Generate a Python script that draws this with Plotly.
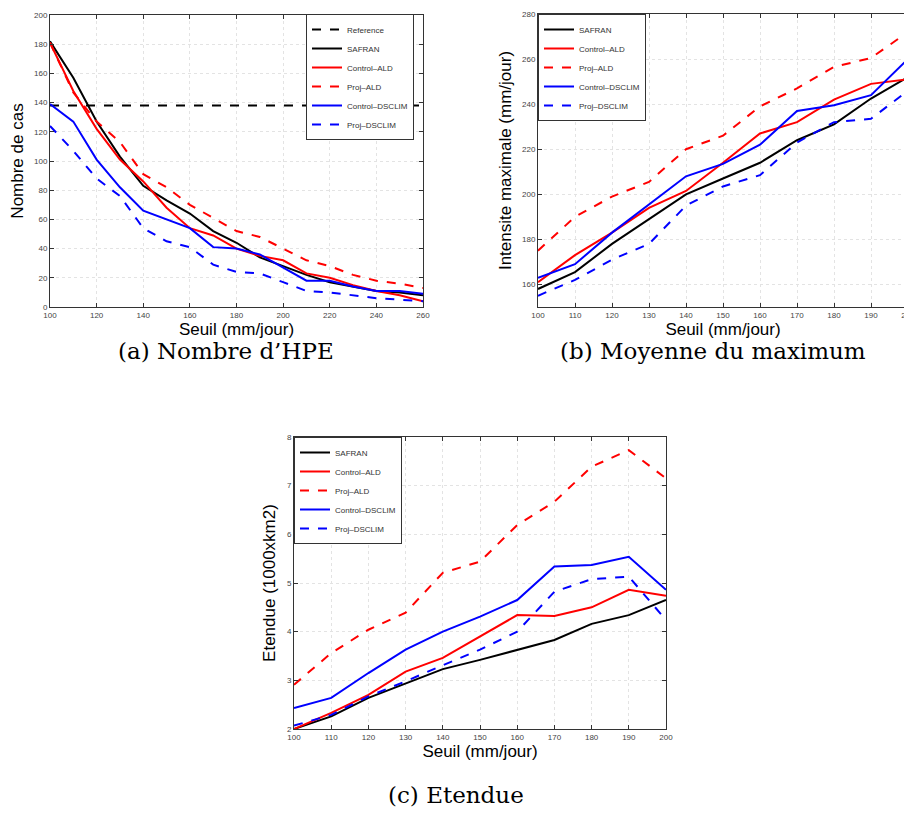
import plotly.graph_objects as go

# ---------------- data ----------------
# Panel (a): Nombre d'HPE
seuil_a = [100, 110, 120, 130, 140, 150, 160, 170, 180, 190, 200, 210, 220, 230, 240, 250, 260]
ref_x_a = [100, 260]
ref_y_a = [138, 138]
safran_a = [182, 157, 127, 103, 83, 73, 64, 52, 44, 34, 28, 22, 17, 14, 11, 10, 8]
ctrl_ald_a = [181, 148, 122, 101, 86, 68, 54, 49, 40, 35, 32, 23, 20, 15, 11, 8, 4]
proj_ald_a = [181, 147, 127, 113, 91, 82, 70, 61, 52, 48, 40, 32, 28, 22, 18, 16, 13]
ctrl_dsc_a = [139, 127, 101, 82, 66, 60, 54, 41, 40, 36, 27, 18, 18, 14, 11, 11, 9]
proj_dsc_a = [124, 107, 88, 76, 54, 45, 41, 29, 24, 23, 17, 11, 10, 8, 6, 5, 4]

# Panel (b): Moyenne du maximum
seuil_b = [100, 110, 120, 130, 140, 150, 160, 170, 180, 190, 200]
safran_b = [158, 165.5, 178, 189, 200, 207, 214, 224, 231, 242.5, 252]
ctrl_ald_b = [161, 173, 183, 194, 201.5, 214, 227, 232, 242, 249, 251]
proj_ald_b = [175, 190, 199, 205.5, 220, 226, 239, 247, 256.5, 260.5, 272]
ctrl_dsc_b = [163, 169, 183, 195.5, 208, 213.5, 222, 237, 239.5, 244, 260]
proj_dsc_b = [155, 162, 171, 178, 195, 203.5, 208.5, 223, 232, 233.5, 246]

# Panel (c): Etendue
seuil_c = [100, 110, 120, 130, 140, 150, 160, 170, 180, 190, 200]
safran_c = [2.0, 2.26, 2.64, 2.94, 3.23, 3.42, 3.63, 3.83, 4.16, 4.34, 4.65]
ctrl_ald_c = [2.0, 2.33, 2.70, 3.18, 3.46, 3.90, 4.34, 4.32, 4.50, 4.86, 4.74]
proj_ald_c = [2.91, 3.56, 4.04, 4.39, 5.21, 5.44, 6.19, 6.67, 7.39, 7.73, 7.15]
ctrl_dsc_c = [2.43, 2.64, 3.15, 3.63, 4.00, 4.31, 4.65, 5.34, 5.37, 5.54, 4.86]
proj_dsc_c = [2.07, 2.29, 2.67, 2.98, 3.31, 3.63, 4.00, 4.82, 5.08, 5.13, 4.24]

captions = ["(a) Nombre d\u2019HPE", "(b) Moyenne du maximum", "(c) Etendue"]
x_title = "Seuil (mm/jour)"
y_titles = ["Nombre de cas", "Intensite maximale (mm/jour)", "Etendue (1000xkm2)"]

# ---------------- figure ----------------
PAGE_W, PAGE_H = 912, 813
OFF = 8  # default body margin of the html page
W, H = PAGE_W - OFF, PAGE_H - OFF
fig = go.Figure()

styles = {
    "Reference": dict(color="black", dash="dash"),
    "SAFRAN": dict(color="black", dash="solid"),
    "Control\u2013ALD": dict(color="#ff0000", dash="solid"),
    "Proj\u2013ALD": dict(color="#ff0000", dash="dash"),
    "Control\u2013DSCLIM": dict(color="#0000ff", dash="solid"),
    "Proj\u2013DSCLIM": dict(color="#0000ff", dash="dash"),
}


def add(x, y, name, xa, ya, leg):
    s = styles[name]
    fig.add_trace(go.Scatter(
        x=x, y=y, mode="lines", name=name,
        line=dict(color=s["color"], dash=s["dash"], width=2),
        xaxis=xa, yaxis=ya, legend=leg, showlegend=True))


add(ref_x_a, ref_y_a, "Reference", "x", "y", "legend")
add(seuil_a, safran_a, "SAFRAN", "x", "y", "legend")
add(seuil_a, ctrl_ald_a, "Control\u2013ALD", "x", "y", "legend")
add(seuil_a, proj_ald_a, "Proj\u2013ALD", "x", "y", "legend")
add(seuil_a, ctrl_dsc_a, "Control\u2013DSCLIM", "x", "y", "legend")
add(seuil_a, proj_dsc_a, "Proj\u2013DSCLIM", "x", "y", "legend")

add(seuil_b, safran_b, "SAFRAN", "x2", "y2", "legend2")
add(seuil_b, ctrl_ald_b, "Control\u2013ALD", "x2", "y2", "legend2")
add(seuil_b, proj_ald_b, "Proj\u2013ALD", "x2", "y2", "legend2")
add(seuil_b, ctrl_dsc_b, "Control\u2013DSCLIM", "x2", "y2", "legend2")
add(seuil_b, proj_dsc_b, "Proj\u2013DSCLIM", "x2", "y2", "legend2")

add(seuil_c, safran_c, "SAFRAN", "x3", "y3", "legend3")
add(seuil_c, ctrl_ald_c, "Control\u2013ALD", "x3", "y3", "legend3")
add(seuil_c, proj_ald_c, "Proj\u2013ALD", "x3", "y3", "legend3")
add(seuil_c, ctrl_dsc_c, "Control\u2013DSCLIM", "x3", "y3", "legend3")
add(seuil_c, proj_dsc_c, "Proj\u2013DSCLIM", "x3", "y3", "legend3")


def px_x(p):
    return (p - OFF) / W


def px_y(p):
    return (PAGE_H - p) / H


axis_common = dict(
    showline=True, linecolor="#333333", linewidth=1, mirror="ticks",
    ticks="inside", ticklen=4, tickcolor="#333333", automargin=False,
    showgrid=True, gridcolor="#e3e3e3", griddash="dot", gridwidth=1,
    zeroline=False, ticklabeloverflow="allow",
    tickfont=dict(family="Liberation Sans", size=8, color="#444444"),
)
xtitle_font = dict(family="Liberation Sans", size=17, color="black")
ytitle_font = dict(family="Liberation Sans", size=17, color="black")

layout = dict(
    width=W, height=H, paper_bgcolor="white", plot_bgcolor="white",
    margin=dict(l=0, r=0, t=0, b=0, autoexpand=False),
    xaxis=dict(domain=[px_x(50), px_x(423)], range=[100, 260], tickvals=list(range(100, 261, 20)),
               anchor="y", title=dict(text=x_title, font=xtitle_font, standoff=2), **axis_common),
    yaxis=dict(domain=[px_y(307), px_y(15)], range=[0, 200], tickvals=list(range(0, 201, 20)),
               anchor="x", title=dict(text=y_titles[0], font=ytitle_font, standoff=6), **axis_common),
    xaxis2=dict(domain=[px_x(538), px_x(908)], range=[100, 200], tickvals=list(range(100, 201, 10)),
                anchor="y2", title=dict(text=x_title, font=xtitle_font, standoff=2), **axis_common),
    yaxis2=dict(domain=[px_y(307), px_y(14)], range=[150, 280], tickvals=list(range(160, 281, 20)),
                anchor="x2", title=dict(text=y_titles[1], font=ytitle_font, standoff=6), **axis_common),
    xaxis3=dict(domain=[px_x(294), px_x(666)], range=[100, 200], tickvals=list(range(100, 201, 10)),
                anchor="y3", title=dict(text=x_title, font=xtitle_font, standoff=2), **axis_common),
    yaxis3=dict(domain=[px_y(729), px_y(437)], range=[2, 8], tickvals=list(range(2, 9)),
                anchor="x3", title=dict(text=y_titles[2], font=ytitle_font, standoff=6), **axis_common),
)

legend_common = dict(
    bgcolor="white", bordercolor="#333333", borderwidth=1,
    font=dict(family="Liberation Sans", size=8, color="#333333"),
    xanchor="left", yanchor="top", tracegroupgap=0, itemwidth=30,
)
layout["legend"] = dict(x=px_x(306), y=px_y(14), **legend_common)
layout["legend2"] = dict(x=px_x(538), y=px_y(14), **legend_common)
layout["legend3"] = dict(x=px_x(294), y=px_y(437), **legend_common)

cap_font = dict(family="DejaVu Serif", size=23, color="black")
layout["annotations"] = [
    dict(text=captions[0], x=px_x(226), y=px_y(351), xref="paper", yref="paper",
         showarrow=False, font=cap_font, xanchor="center", yanchor="middle"),
    dict(text=captions[1], x=px_x(713), y=px_y(351), xref="paper", yref="paper",
         showarrow=False, font=cap_font, xanchor="center", yanchor="middle"),
    dict(text=captions[2], x=px_x(456), y=px_y(795), xref="paper", yref="paper",
         showarrow=False, font=cap_font, xanchor="center", yanchor="middle"),
]

fig.update_layout(**layout)
fig.write_html("out.html")
